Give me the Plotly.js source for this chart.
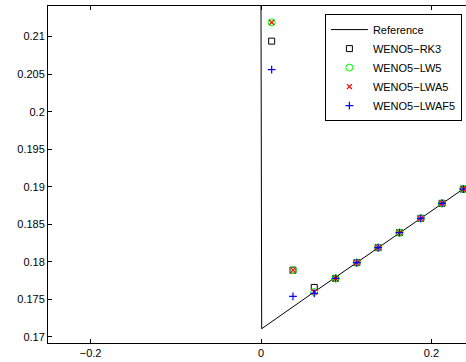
<!DOCTYPE html>
<html>
<head>
<meta charset="utf-8">
<script src="https://cdn.plot.ly/plotly-3.0.1.min.js"></script>
<style>
html, body { margin: 0; padding: 0; overflow: hidden; background: #fff; }
#chart { width: 480px; height: 362px; }
</style>
</head>
<body>
<div id="chart"></div>
<script>
// Reference solution (line)
const refX = [0, 0.0008, 0.0625, 0.1375, 0.2375, 0.25];
const refY = [0.2145, 0.1711, 0.1760, 0.1819, 0.1897, 0.1907];

// Cell centres of the numerical solutions
const cellX = [0.0125, 0.0375, 0.0625, 0.0875, 0.1125, 0.1375, 0.1625, 0.1875, 0.2125, 0.2375];

const rk3Y   = [0.2094, 0.1789, 0.1766, 0.1778, 0.1799, 0.1819, 0.1839, 0.1858, 0.1878, 0.1897];
const lw5Y   = [0.2119, 0.1789, 0.1760, 0.1778, 0.1799, 0.1819, 0.1839, 0.1858, 0.1878, 0.1897];
const lwa5Y  = [0.2119, 0.1789, 0.1760, 0.1778, 0.1799, 0.1819, 0.1839, 0.1858, 0.1878, 0.1897];
const lwaf5Y = [0.2056, 0.1754, 0.1758, 0.1778, 0.1799, 0.1819, 0.1839, 0.1858, 0.1878, 0.1897];

const xTicks = [-0.2, 0, 0.2];
const xTickText = ['\u22120.2', '0', '0.2'];
const yTicks = [0.17, 0.175, 0.18, 0.185, 0.19, 0.195, 0.2, 0.205, 0.21];
const yTickText = ['0.17', '0.175', '0.18', '0.185', '0.19', '0.195', '0.2', '0.205', '0.21'];

const traces = [
  { x: refX, y: refY, mode: 'lines', name: 'Reference',
    line: { color: '#000', width: 1 } },
  { x: cellX, y: rk3Y, mode: 'markers', name: 'WENO5\u2212RK3',
    marker: { symbol: 'square-open', size: 6, color: '#000', line: { width: 1, color: '#000' } } },
  { x: cellX, y: lw5Y, mode: 'markers', name: 'WENO5\u2212LW5',
    marker: { symbol: 'circle-open', size: 7, color: '#00ff00', line: { width: 1, color: '#00ff00' } } },
  { x: cellX, y: lwa5Y, mode: 'markers', name: 'WENO5\u2212LWA5',
    marker: { symbol: 'x-thin-open', size: 5, color: '#ff0000', line: { width: 1.3, color: '#ff0000' } } },
  { x: cellX, y: lwaf5Y, mode: 'markers', name: 'WENO5\u2212LWAF5',
    marker: { symbol: 'cross-thin-open', size: 5.5, color: '#0000ff', line: { width: 1.2, color: '#0000ff' } } }
];

const axisCommon = {
  showline: true, mirror: 'ticks', linecolor: '#000', linewidth: 1,
  ticks: 'inside', ticklen: 4, tickcolor: '#000', tickwidth: 1,
  showgrid: false, zeroline: false,
  tickfont: { family: 'Liberation Sans, Arial, sans-serif', size: 11, color: '#000' }
};

const layout = {
  width: 480, height: 362,
  margin: { l: 48, r: 6, t: 6, b: 19 },
  paper_bgcolor: '#fff', plot_bgcolor: '#fff',
  showlegend: true,
  xaxis: Object.assign({}, axisCommon, {
    range: [-0.25, 0.25], tickmode: 'array', tickvals: xTicks, ticktext: xTickText
  }),
  yaxis: Object.assign({}, axisCommon, {
    range: [0.1692, 0.21408], tickmode: 'array', tickvals: yTicks, ticktext: yTickText
  }),
  legend: {
    x: 0.65, y: 0.976, xanchor: 'left', yanchor: 'top',
    bgcolor: '#fff', bordercolor: '#000', borderwidth: 1,
    itemwidth: 37,
    font: { family: 'Liberation Sans, Arial, sans-serif', size: 11, color: '#000' }
  }
};

Plotly.newPlot('chart', traces, layout, { displayModeBar: false, staticPlot: true });
</script>
</body>
</html>
